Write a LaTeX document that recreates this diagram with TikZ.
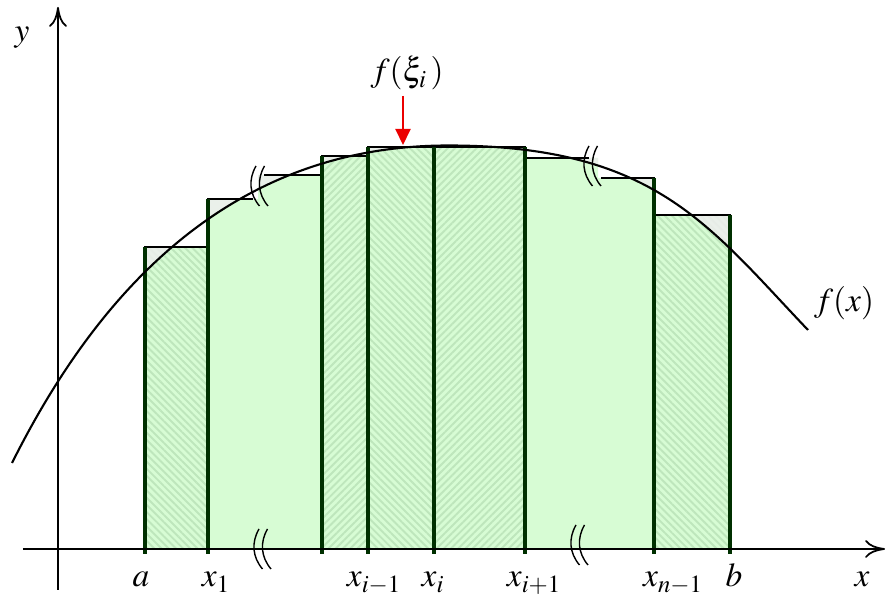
\documentclass[tikz,border=0pt]{standalone}
\usepackage{xcolor}
\usepackage{mathptmx}
\usepackage{tikz}
\usetikzlibrary{arrows.meta, calc, patterns.meta}
\definecolor{myfill}{RGB}{215,252,212}
\definecolor{myhatch}{RGB}{190,230,188}
\definecolor{mydkgreen}{RGB}{0,48,0}
\definecolor{mygap}{RGB}{238,238,238}
\definecolor{myred}{RGB}{235,0,0}
\tikzset{
  axisline/.style={line width=1pt, -{Computer Modern Rightarrow[length=4mm,width=3.6mm]}},
  fxline/.style={line width=1.2pt},
  rectline/.style={line width=0.9pt, color=black},
  rectedge/.style={line width=1.9pt, color=mydkgreen},
  hatchNE/.style={pattern={Lines[angle=45,distance=2.9pt,line width=1.1pt]}, pattern color=myhatch},
  hatchNW/.style={pattern={Lines[angle=-45,distance=2.9pt,line width=1.1pt]}, pattern color=myhatch},
  breakmark/.style={line width=0.8pt},
  lbl/.style={font=\fontsize{19}{23}\selectfont, inner sep=0pt, anchor=base},
  redarrow/.style={-{Triangle[length=3.2mm,width=3mm]}, line width=1.2pt, color=myred}
}
% the curve f(x)
\newcommand{\fxcurve}{(-0.92,1.72) .. controls (0.88,5.32) and (3.57,8.07) .. (7.8,8.07) .. controls (11.93,8.07) and (13,6.48) .. (15,4.38)}
% omitted strips
\newcommand{\gapmark}[2]{%
  \draw[breakmark] (#1,#2) ++(0,0.4) to[bend right=35] ++(0.07,-0.8);
  \draw[breakmark] (#1,#2) ++(0.17,0.4) to[bend right=35] ++(0.07,-0.8);}

\begin{document}
\begin{tikzpicture}
  \useasboundingbox (-1.16,-0.94) rectangle (16.58,10.98);

  % Strips under the curve
  \begin{scope}
    \clip (1.74,0) -- (1.74,6.04) -- (3.0,6.04) -- (3.0,7.0) -- (4.0,7.0) -- (4.0,7.48) -- (5.28,7.48) -- (5.28,7.86) -- (6.2,7.86) -- (6.2,8.04) -- (9.34,8.04) -- (9.34,7.82) -- (10.8,7.82) -- (10.8,7.42) -- (11.92,7.42) -- (11.92,6.68) -- (13.44,6.68) -- (13.44,0) -- cycle;
    \fill[myfill] (1.7,0) rectangle (13.5,8.2);
    \fill[hatchNW] (1.74,0) rectangle (3.0,6.04);
    \fill[hatchNE] (5.28,0) rectangle (6.2,7.86);
    \fill[hatchNW] (6.2,0) rectangle (7.52,8.04);
    \fill[hatchNE] (7.52,0) rectangle (9.34,8.04);
    \fill[hatchNW] (11.92,0) rectangle (13.44,6.68);
    % parts above the curve
    \fill[mygap, opacity=0.85] \fxcurve -- (15,9) -- (-0.92,9) -- cycle;
  \end{scope}

  % Strip outlines
  \draw[rectline] (1.74,0) -- (1.74,6.04) -- (3.0,6.04) -- (3.0,7.0) -- (3.9,7.0);
  \draw[rectline] (4.12,7.48) -- (5.28,7.48) -- (5.28,7.86) -- (6.2,7.86) -- (6.2,8.04) -- (9.34,8.04) -- (9.34,7.82) -- (10.62,7.82);
  \draw[rectline] (10.86,7.42) -- (11.92,7.42) -- (11.92,6.68) -- (13.44,6.68) -- (13.44,0);

  % Division lines
  \draw[rectedge] (1.74,-0.1) -- (1.74,6.04);
  \draw[rectedge] (3.0,-0.1) -- (3.0,7.0);
  \draw[rectedge] (5.28,-0.1) -- (5.28,7.86);
  \draw[rectedge] (6.2,-0.1) -- (6.2,8.04);
  \draw[rectedge] (7.52,-0.1) -- (7.52,8.04);
  \draw[rectedge] (9.34,-0.1) -- (9.34,8.04);
  \draw[rectedge] (11.92,-0.1) -- (11.92,7.42);
  \draw[rectedge] (13.44,-0.1) -- (13.44,6.68);

  % Curve and axes
  \draw[fxline] \fxcurve;
  \draw[axisline] (-0.7,0) -- (16.54,0);
  \draw[axisline] (0,-0.82) -- (0,10.84);

  % Break marks
  \gapmark{3.96}{7.26}
  \gapmark{4.02}{0.0}
  \gapmark{10.62}{7.66}
  \gapmark{10.36}{0.08}

  % Labels
  \node[lbl] (ylbl) at (-0.72,10.14) {$y$};
  \node[lbl] (albl) at (1.66,-0.76) {$a$};
  \node[lbl] (x1lbl) at (3.16,-0.76) {$x_1$};
  \node[lbl] (ximlbl) at (6.32,-0.76) {$x_{i-1}$};
  \node[lbl] (xilbl) at (7.5,-0.76) {$x_i$};
  \node[lbl] (xiplbl) at (9.52,-0.76) {$x_{i+1}$};
  \node[lbl] (xnlbl) at (12.3,-0.76) {$x_{n-1}$};
  \node[lbl] (blbl) at (13.52,-0.76) {$b$};
  \node[lbl] (xlbl) at (16.08,-0.76) {$x$};
  \node[lbl] (fxlbl) at (15.72,4.74) {$f(x)$};
  \node[lbl] (fxi) at (6.98,9.34) {$f(\xi_i\,)$};

  % Value at xi
  \coordinate (peak) at (6.9,8.08);
  \draw[redarrow, shorten <=3pt] (fxi.south -| peak) -- (peak);
\end{tikzpicture}
\end{document}
